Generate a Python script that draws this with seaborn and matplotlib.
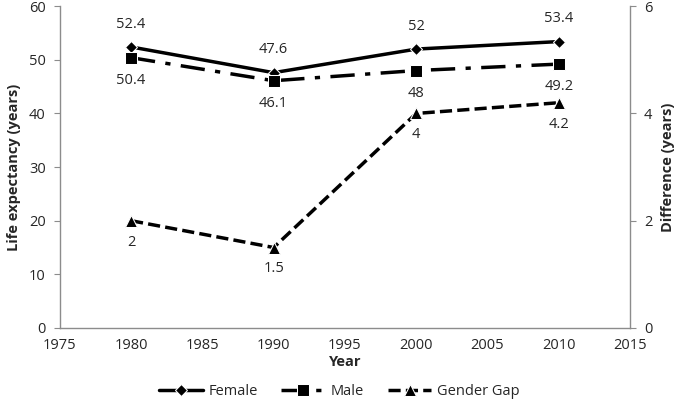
import matplotlib
matplotlib.use("Agg")
import matplotlib.pyplot as plt
import seaborn as sns
import pandas as pd

years = [1980, 1990, 2000, 2010]
female = [52.4, 47.6, 52, 53.4]
male = [50.4, 46.1, 48, 49.2]
gap = [2, 1.5, 4, 4.2]

df = pd.DataFrame({"Year": years, "Female": female, "Male": male, "Gap": gap})

sns.set_style("white")
plt.rcParams["font.family"] = ["Open Sans", "DejaVu Sans"]

fig = plt.figure(figsize=(6.79, 4.12), dpi=100)
ax = fig.add_axes([0.088, 0.204, 0.84, 0.781])
ax2 = ax.twinx()

sns.lineplot(data=df, x="Year", y="Female", ax=ax, color="black", lw=2.5,
             marker="D", markersize=6, label="Female", legend=False)
sns.lineplot(data=df, x="Year", y="Male", ax=ax, color="black", lw=2.5,
             marker="s", markersize=8, label="Male", legend=False)
ax.lines[-1].set_dashes([7, 3, 1.5, 3])
sns.lineplot(data=df, x="Year", y="Gap", ax=ax2, color="black", lw=2.5,
             marker="^", markersize=8, label="Gender Gap", legend=False)
ax2.lines[-1].set_dashes([3.5, 1.5])

fs = 10.5
for x, y in zip(years, female):
    ax.annotate(f"{y:g}", (x, y), xytext=(0, 11), textcoords="offset points",
                ha="center", va="bottom", fontsize=fs)
for x, y in zip(years, male):
    ax.annotate(f"{y:g}", (x, y), xytext=(0, -11), textcoords="offset points",
                ha="center", va="top", fontsize=fs)
for x, y in zip(years, gap):
    ax2.annotate(f"{y:g}", (x, y), xytext=(0, -10), textcoords="offset points",
                 ha="center", va="top", fontsize=fs)

ax.set_xlim(1975, 2015)
ax.set_ylim(0, 60)
ax2.set_ylim(0, 6)
ax.set_xticks(range(1975, 2016, 5))
ax.set_yticks(range(0, 61, 10))
ax2.set_yticks([0, 2, 4, 6])

for a in (ax, ax2):
    for s in a.spines.values():
        s.set_visible(False)
ax.spines["left"].set_visible(True)
ax.spines["bottom"].set_visible(True)
ax2.spines["right"].set_visible(True)
for s in (ax.spines["left"], ax.spines["bottom"], ax2.spines["right"]):
    s.set_color("#8c8c8c")
    s.set_linewidth(1)

ax.tick_params(axis="y", direction="out", length=4, color="#8c8c8c", labelsize=fs, left=True, pad=6)
ax.tick_params(axis="x", length=0, labelsize=fs, pad=7)
ax2.tick_params(axis="y", direction="out", length=4, color="#8c8c8c", labelsize=fs, right=True, pad=6)

ax.set_xlabel("Year", fontsize=fs, fontweight="bold", labelpad=2)
ax.set_ylabel("Life expectancy (years)", fontsize=fs, fontweight="bold", labelpad=6)
ax2.set_ylabel("Difference (years)", fontsize=fs, fontweight="bold", labelpad=6)

handles = ax.lines[:2] + ax2.lines[:1]
labels = ["Female", "Male", "Gender Gap"]
fig.legend(handles, labels, loc="lower center", ncol=3, frameon=False,
           bbox_to_anchor=(0.5, 0.0), fontsize=fs, handlelength=3,
           handletextpad=0.4, columnspacing=1.6)

fig.savefig("out.png", dpi=100)
